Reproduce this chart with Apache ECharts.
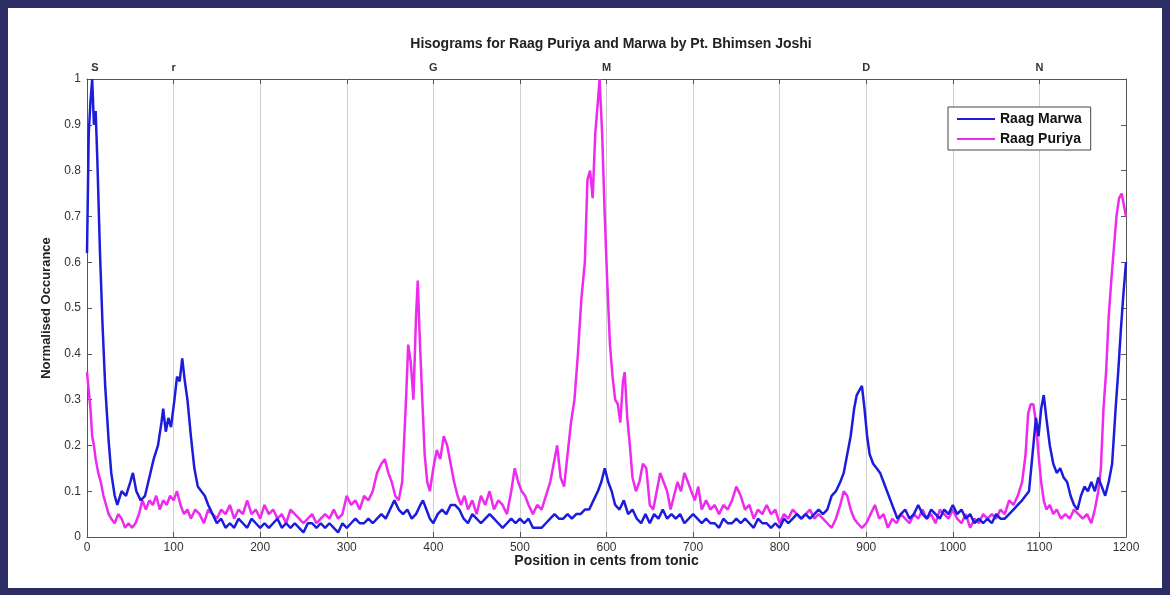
<!DOCTYPE html>
<html>
<head>
<meta charset="utf-8">
<script src="https://cdn.jsdelivr.net/npm/echarts@6/dist/echarts.min.js"></script>
<style>
html,body{margin:0;padding:0;background:#2c2d62;}
#wrap{position:relative;width:1170px;height:595px;background:#2c2d62;overflow:hidden;}
#panel{position:absolute;left:8px;top:8px;width:1154px;height:580px;background:#ffffff;}
#chart{position:absolute;left:0;top:0;width:1170px;height:595px;}
</style>
</head>
<body>
<div id="wrap"><div id="panel"></div><div id="chart"></div></div>
<script>
const titleText = 'Hisograms for Raag Puriya and Marwa by Pt. Bhimsen Joshi';
const xTicks = [0,100,200,300,400,500,600,700,800,900,1000,1100,1200];
const swaraLabels = {0:'S',100:'r',400:'G',600:'M',900:'D',1100:'N'};

const marwaCents = [0,2,4,6,8,10,12,15,18,21,25,28,32,35,40,45,50,53,57,62,67,72,77,82,86,88,91,94,97,101,104,107,110,113,116,120,124,128,132,136,140,145,150,155,160,165,170,175,180,185,190,195,200,205,210,215,220,225,230,235,240,245,250,255,260,265,270,275,280,285,290,295,300,305,310,315,320,325,330,335,340,345,350,355,360,365,370,375,380,385,388,392,396,400,405,410,415,420,425,430,435,440,445,450,455,460,465,470,475,480,485,490,495,500,505,510,515,520,525,530,535,540,545,550,555,560,565,570,575,580,585,590,594,598,602,606,610,615,620,625,630,635,640,645,650,655,660,665,670,675,680,685,690,695,700,705,710,715,720,725,730,735,740,745,750,755,760,765,770,775,780,785,790,795,800,805,810,815,820,825,830,835,840,845,850,855,860,865,870,874,878,882,886,889,892,895,898,901,904,908,912,916,920,924,928,932,936,940,945,950,955,960,965,970,975,980,985,990,995,1000,1005,1010,1015,1020,1025,1030,1035,1040,1045,1050,1055,1060,1065,1070,1075,1080,1084,1088,1092,1096,1099,1102,1105,1108,1112,1116,1120,1124,1128,1132,1136,1140,1144,1148,1152,1156,1160,1164,1168,1172,1176,1180,1184,1188,1191,1194,1197,1200];
const marwa = [0.62,0.88,0.95,1.0,0.9,0.93,0.82,0.62,0.46,0.33,0.21,0.14,0.09,0.07,0.1,0.09,0.12,0.14,0.1,0.08,0.09,0.13,0.17,0.2,0.25,0.28,0.23,0.26,0.24,0.3,0.35,0.34,0.39,0.34,0.3,0.22,0.15,0.11,0.1,0.09,0.07,0.05,0.03,0.04,0.02,0.03,0.02,0.04,0.03,0.02,0.04,0.03,0.02,0.03,0.02,0.03,0.04,0.02,0.03,0.02,0.03,0.02,0.01,0.03,0.03,0.02,0.03,0.02,0.03,0.02,0.01,0.03,0.02,0.03,0.04,0.03,0.03,0.04,0.03,0.04,0.05,0.04,0.06,0.08,0.06,0.05,0.06,0.04,0.05,0.07,0.08,0.06,0.04,0.03,0.05,0.06,0.05,0.07,0.07,0.06,0.04,0.03,0.05,0.04,0.03,0.04,0.05,0.04,0.03,0.02,0.03,0.04,0.03,0.04,0.03,0.04,0.02,0.02,0.02,0.03,0.04,0.05,0.04,0.04,0.05,0.04,0.05,0.05,0.06,0.06,0.08,0.1,0.12,0.15,0.12,0.1,0.07,0.06,0.08,0.05,0.06,0.04,0.03,0.05,0.03,0.05,0.04,0.06,0.04,0.05,0.04,0.05,0.03,0.04,0.05,0.04,0.03,0.04,0.03,0.03,0.02,0.04,0.03,0.03,0.04,0.03,0.04,0.03,0.02,0.04,0.03,0.03,0.02,0.03,0.02,0.04,0.03,0.04,0.05,0.04,0.05,0.04,0.05,0.06,0.05,0.06,0.09,0.1,0.12,0.14,0.18,0.22,0.28,0.31,0.32,0.33,0.28,0.22,0.18,0.16,0.15,0.14,0.12,0.1,0.08,0.06,0.04,0.05,0.06,0.04,0.05,0.07,0.05,0.04,0.06,0.05,0.04,0.06,0.05,0.07,0.05,0.06,0.04,0.05,0.03,0.04,0.03,0.04,0.03,0.05,0.04,0.04,0.05,0.06,0.07,0.08,0.09,0.1,0.18,0.26,0.22,0.28,0.31,0.26,0.2,0.16,0.14,0.15,0.13,0.12,0.09,0.07,0.06,0.09,0.11,0.1,0.12,0.1,0.13,0.11,0.09,0.12,0.16,0.28,0.36,0.45,0.53,0.6];

const puriyaCents = [0,2,4,6,8,10,13,16,19,22,25,28,32,36,40,44,48,52,56,60,64,68,72,76,80,84,88,92,96,100,104,108,112,116,120,125,130,135,140,145,150,155,160,165,170,175,180,185,190,195,200,205,210,215,220,225,230,235,240,245,250,255,260,265,270,275,280,285,290,295,300,305,310,315,320,325,330,335,340,344,348,352,356,360,364,368,371,374,377,380,382,384,387,390,393,396,400,404,408,412,416,420,424,428,432,436,440,445,450,455,460,465,470,475,480,485,490,494,498,502,506,510,515,520,525,530,535,539,543,547,551,555,559,563,567,571,575,578,581,584,587,590,592,595,598,601,604,607,610,613,616,619,621,624,627,630,634,638,642,646,650,654,658,662,666,670,674,678,682,686,690,694,698,702,706,710,715,720,725,730,735,740,745,750,755,760,765,770,775,780,785,790,795,800,805,810,815,820,825,830,835,840,845,850,855,860,865,870,874,878,882,886,890,895,900,905,910,915,920,925,930,935,940,945,950,955,960,965,970,975,980,985,990,995,1000,1005,1010,1015,1020,1025,1030,1035,1040,1045,1050,1055,1060,1065,1070,1075,1080,1084,1087,1090,1093,1096,1099,1102,1105,1108,1112,1116,1120,1125,1130,1135,1140,1145,1150,1155,1160,1164,1168,1171,1174,1177,1180,1183,1186,1189,1192,1195,1198,1200];
const puriya = [0.36,0.32,0.28,0.22,0.2,0.17,0.14,0.12,0.09,0.07,0.05,0.04,0.03,0.05,0.04,0.02,0.03,0.02,0.03,0.05,0.08,0.06,0.08,0.07,0.09,0.06,0.08,0.07,0.09,0.08,0.1,0.07,0.05,0.06,0.04,0.06,0.05,0.03,0.06,0.05,0.04,0.06,0.05,0.07,0.04,0.06,0.05,0.08,0.05,0.06,0.04,0.07,0.05,0.06,0.04,0.05,0.03,0.06,0.05,0.04,0.03,0.04,0.05,0.03,0.04,0.05,0.04,0.06,0.04,0.05,0.09,0.07,0.08,0.06,0.09,0.08,0.1,0.14,0.16,0.17,0.14,0.12,0.09,0.08,0.12,0.28,0.42,0.38,0.3,0.48,0.56,0.45,0.31,0.18,0.12,0.1,0.15,0.19,0.17,0.22,0.2,0.16,0.12,0.09,0.07,0.09,0.06,0.08,0.05,0.09,0.07,0.1,0.06,0.08,0.07,0.05,0.1,0.15,0.12,0.1,0.09,0.07,0.05,0.07,0.06,0.09,0.12,0.16,0.2,0.13,0.11,0.18,0.25,0.3,0.4,0.52,0.6,0.78,0.8,0.74,0.88,0.95,1.0,0.88,0.7,0.55,0.42,0.35,0.3,0.29,0.25,0.34,0.36,0.26,0.2,0.13,0.1,0.12,0.16,0.15,0.07,0.06,0.1,0.14,0.12,0.1,0.06,0.09,0.12,0.1,0.14,0.12,0.1,0.08,0.11,0.06,0.08,0.06,0.07,0.05,0.07,0.06,0.08,0.11,0.09,0.06,0.07,0.04,0.06,0.05,0.07,0.05,0.06,0.03,0.05,0.04,0.06,0.05,0.04,0.05,0.06,0.04,0.05,0.04,0.03,0.02,0.04,0.07,0.1,0.09,0.06,0.04,0.03,0.02,0.03,0.05,0.07,0.04,0.05,0.02,0.04,0.03,0.05,0.04,0.03,0.05,0.04,0.06,0.04,0.05,0.03,0.06,0.05,0.04,0.06,0.04,0.03,0.05,0.02,0.04,0.03,0.05,0.04,0.05,0.04,0.06,0.05,0.08,0.07,0.09,0.12,0.18,0.27,0.29,0.29,0.25,0.18,0.12,0.08,0.06,0.07,0.05,0.06,0.04,0.05,0.04,0.06,0.05,0.04,0.05,0.03,0.06,0.1,0.15,0.28,0.36,0.48,0.56,0.63,0.7,0.74,0.75,0.72,0.7];

function zip(xs, ys){ return xs.map((x,i)=>[x, ys[i]]); }

const font = 'Liberation Sans, Arial, Helvetica, sans-serif';
const axisCol = '#555555';
const chart = echarts.init(document.getElementById('chart'), null, {renderer:'canvas'});
chart.setOption({
  backgroundColor: 'transparent',
  animation: false,
  title: {
    text: titleText, left: 606, top: 32, textAlign: 'center',
    textStyle: {fontFamily: font, fontSize: 14, fontWeight: 'bold', color: '#222'}
  },
  legend: {
    orient: 'vertical', left: 948, top: 107,
    padding: [5, 9, 4, 9], itemGap: 6,
    itemWidth: 38, itemHeight: 2, icon: 'rect',
    backgroundColor: '#ffffff', borderColor: '#444', borderWidth: 1, borderRadius: 0,
    textStyle: {fontFamily: font, fontSize: 14, fontWeight: 'bold', color: '#111'},
    data: ['Raag Marwa', 'Raag Puriya']
  },
  grid: {left: 87, right: 44, top: 79, bottom: 58, containLabel: false},
  xAxis: [
    {
      type: 'value', position: 'bottom', min: 0, max: 1200, interval: 100,
      name: 'Position in cents from tonic', nameLocation: 'middle', nameGap: 17,
      nameMoveOverlap: false,
      nameTextStyle: {fontFamily: font, fontSize: 14, fontWeight: 'bold', color: '#222'},
      axisLine: {show: true, lineStyle: {color: axisCol, width: 1}},
      axisTick: {show: true, inside: true, length: 5, lineStyle: {color: axisCol}},
      axisLabel: {fontFamily: font, fontSize: 12, color: '#333', margin: 5,
        formatter: v => xTicks.indexOf(v) >= 0 ? String(v) : ''},
      splitLine: {show: true, lineStyle: {color: '#cfcfcf', width: 1}}
    },
    {
      type: 'value', position: 'top', min: 0, max: 1200, interval: 100,
      axisLine: {show: true, onZero: false, lineStyle: {color: axisCol, width: 1}},
      axisTick: {show: true, inside: true, length: 5, lineStyle: {color: axisCol}},
      axisLabel: {fontFamily: font, fontSize: 11, fontWeight: 'bold', color: '#333', margin: 6,
        formatter: v => v === 0 ? '{s|S}' : (swaraLabels[v] || ''),
        rich: {s: {fontFamily: font, fontSize: 11, fontWeight: 'bold', color: '#333', padding: [0, 0, 0, 16]}}},
      splitLine: {show: false}
    }
  ],
  yAxis: [
    {
      type: 'value', position: 'left', min: 0, max: 1, interval: 0.1,
      name: 'Normalised Occurance', nameLocation: 'middle', nameGap: 34, nameRotate: 90,
      nameTextStyle: {fontFamily: font, fontSize: 13, fontWeight: 'bold', color: '#222'},
      axisLine: {show: true, lineStyle: {color: axisCol, width: 1}},
      axisTick: {show: true, inside: true, length: 5, lineStyle: {color: axisCol}},
      axisLabel: {fontFamily: font, fontSize: 12, color: '#333', margin: 6,
        formatter: v => (Math.round(v*10)/10).toString()},
      splitLine: {show: false}
    },
    {
      type: 'value', position: 'right', min: 0, max: 1, interval: 0.1,
      axisLine: {show: true, onZero: false, lineStyle: {color: axisCol, width: 1}},
      axisTick: {show: true, inside: true, length: 5, lineStyle: {color: axisCol}},
      axisLabel: {show: false},
      splitLine: {show: false}
    }
  ],
  series: [
    {
      name: 'Raag Marwa', type: 'line', xAxisIndex: 0, yAxisIndex: 0,
      data: zip(marwaCents, marwa), showSymbol: false, symbol: 'none',
      lineStyle: {color: '#1c1cdc', width: 2.5}, itemStyle: {color: '#1c1cdc'}, z: 3
    },
    {
      name: 'Raag Puriya', type: 'line', xAxisIndex: 0, yAxisIndex: 0,
      data: zip(puriyaCents, puriya), showSymbol: false, symbol: 'none',
      lineStyle: {color: '#ee2aee', width: 2.5}, itemStyle: {color: '#ee2aee'}, z: 2
    }
  ]
});
</script>
</body>
</html>
